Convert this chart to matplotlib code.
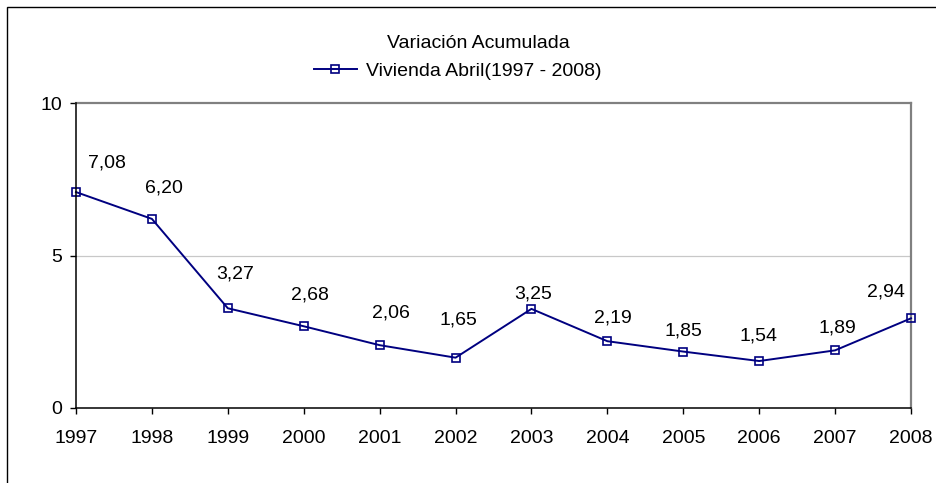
import matplotlib

matplotlib.use("Agg")
import matplotlib.pyplot as plt
from matplotlib.patches import Rectangle

plt.rcParams["font.family"] = ["Liberation Sans", "DejaVu Sans"]

years = ["1997", "1998", "1999", "2000", "2001", "2002",
         "2003", "2004", "2005", "2006", "2007", "2008"]
values = [7.08, 6.20, 3.27, 2.68, 2.06, 1.65, 3.25, 2.19, 1.85, 1.54, 1.89, 2.94]
labels = ["7,08", "6,20", "3,27", "2,68", "2,06", "1,65",
          "3,25", "2,19", "1,85", "1,54", "1,89", "2,94"]

title = "Variación Acumulada"
series_name = "Vivienda Abril(1997 - 2008)"

# label offsets (pixels) as Excel placed them
lab_dx = [31, 12, 7, 6, 11, 3, 2, 6, 0, -1, 2, -25]
lab_dy = [29, 31, 34, 31, 32, 38, 15, 23, 21, 25, 22, 26]

NAVY = "#000080"
FS = 14

fig = plt.figure(figsize=(9.36, 4.83), dpi=100)
ax = fig.add_axes([76 / 936, 1 - 408 / 483, (911 - 76) / 936, (408 - 103) / 483])

x = list(range(len(years)))
line, = ax.plot(x, values, color=NAVY, lw=1.4, marker="s", ms=5.5,
                mfc="none", mec=NAVY, mew=1.2, clip_on=False, zorder=5,
                label=series_name)

for xi, v, t, dx, dy in zip(x, values, labels, lab_dx, lab_dy):
    ax.annotate(t, (xi, v), xytext=(dx, dy), textcoords="offset pixels",
                ha="center", va="center", fontsize=FS)

ax.set_xlim(0, len(years) - 1)
ax.set_ylim(0, 10)
ax.set_yticks([0, 5, 10])
ax.set_yticklabels(["0", "5", "10"])
ax.set_xticks(x)
ax.set_xticklabels(years)
ax.tick_params(axis="both", direction="out", length=4, width=1,
               labelsize=FS, color="black")
ax.tick_params(axis="y", pad=6)
ax.tick_params(axis="x", pad=11.5)

ax.axhline(5, color="#c8c8c8", lw=0.9, zorder=1)
for s in ("top", "right"):
    ax.spines[s].set_color("#808080")
    ax.spines[s].set_linewidth(1.6)
for s in ("left", "bottom"):
    ax.spines[s].set_color("black")
    ax.spines[s].set_linewidth(1.1)
    ax.spines[s].set_zorder(6)

fig.text(478 / 936, 1 - 43 / 483, title, ha="center", va="center", fontsize=FS)
fig.legend(handles=[line], loc="center", bbox_to_anchor=(457.5 / 936, 1 - 71 / 483),
           frameon=False, fontsize=FS, handlelength=2.2, handletextpad=0.45,
           borderpad=0, borderaxespad=0)

fig.patches.append(Rectangle((7.5 / 936, -0.05), 1.2, 1 - 6.5 / 483 + 0.05,
                             transform=fig.transFigure, fill=False,
                             edgecolor="black", lw=1.0, clip_on=False))

fig.savefig("out.png", dpi=100, facecolor="white")
